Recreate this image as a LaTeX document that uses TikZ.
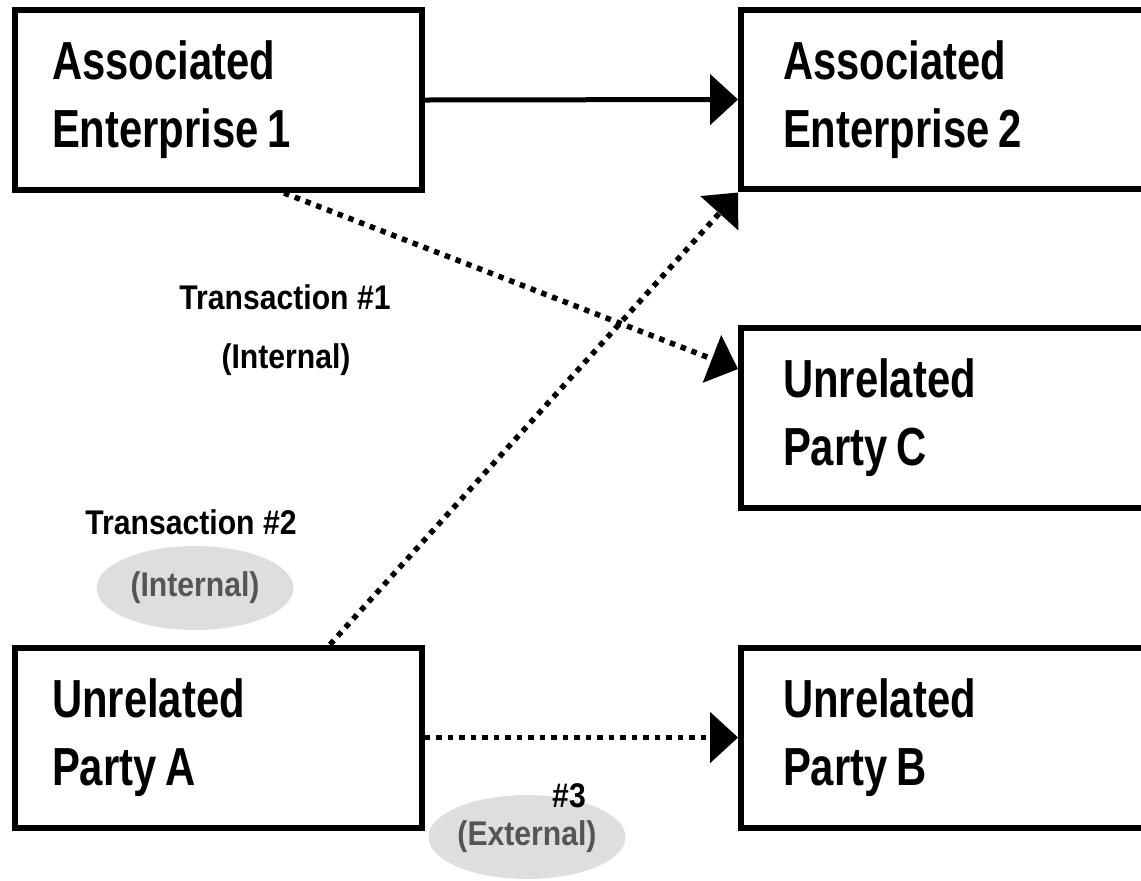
\documentclass[tikz,border=0pt]{standalone}
\usepackage{fontspec}
\setmainfont{Liberation Sans}
\newfontfamily\boxfont[FakeStretch=0.78]{Liberation Sans}
\newfontfamily\lblfont[FakeStretch=0.88]{Liberation Sans}
\usetikzlibrary{arrows.meta, positioning, shapes.geometric, calc}
\definecolor{pillgray}{HTML}{DEDEDE}
\definecolor{labelgray}{HTML}{555555}

\begin{document}
\begin{tikzpicture}[
      x=0.02cm, y=-0.02cm,
      box/.style={rectangle, draw=black, line width=0.12cm, minimum height=3.6cm,
                  align=left, inner ysep=0pt, font=\boxfont\bfseries\fontsize{30.5}{38.7}\selectfont},
      leftbox/.style={box, text width=6.66cm, inner xsep=0.74cm},
      rightbox/.style={box, text width=7.12cm, inner xsep=0.84cm},
      lbl/.style={inner sep=0pt, font=\lblfont\bfseries\fontsize{19.5}{22}\selectfont},
      pill/.style={ellipse, fill=pillgray, text=labelgray, minimum width=3.94cm,
                   minimum height=1.68cm, inner sep=0pt, font=\lblfont\bfseries\fontsize{19.5}{22}\selectfont},
      arr/.style={-{Triangle[length=0.56cm, width=1cm]}, line width=0.1cm},
      dotarr/.style={arr, line width=0.11cm, dash pattern=on 0.11cm off 0.12cm}
    ]
      \clip (0,0) rectangle (1141,880);
      \node[leftbox] (ae1) at (218.5,100) {Associated\\Enterprise\,1};
      \node[rightbox] (ae2) at (961,99.5) {Associated\\Enterprise\,2};
      \node[rightbox] (pc) at (961,418) {Unrelated\\Party\,C};
      \node[leftbox] (pa) at (218.5,737.5) {Unrelated\\Party\,A};
      \node[rightbox] (pb) at (961,737.5) {Unrelated\\Party\,B};

      \node[lbl] (t1) at (285,297) {Transaction \#1};
      \node[lbl] (t1kind) at (286,360) {(Internal)};
      \node[lbl] (t2) at (191,522) {Transaction \#2};
      \node[pill] (t2kind) at (195,588) {(Internal)};
      \node[pill] (t3kind) at (527,837) {(External)};
      \node[lbl] (t3) at (569,796) {\#3};

      \draw[arr] (ae1.east) -- (ae2.west);
      \draw[dotarr] ($(ae1.south west)+(272,0)$) -- ($(pc.north west)+(0,44)$);
      \draw[dotarr] ($(pa.north west)+(318,0)$) -- (ae2.south west);
      \draw[dotarr] (pa.east) -- (pb.west);
    \end{tikzpicture}
\end{document}
